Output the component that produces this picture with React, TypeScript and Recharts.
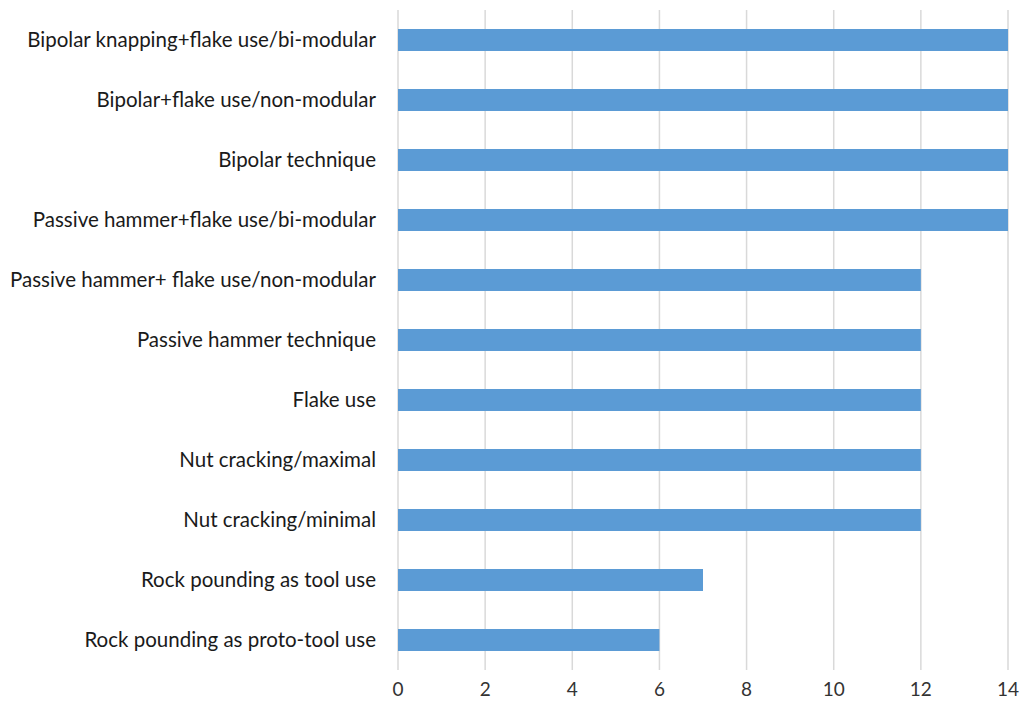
import React from "react";
import { BarChart, Bar, XAxis, YAxis, CartesianGrid } from "recharts";

const categories = [
  "Bipolar knapping+flake use/bi-modular",
  "Bipolar+flake use/non-modular",
  "Bipolar technique",
  "Passive hammer+flake use/bi-modular",
  "Passive hammer+ flake use/non-modular",
  "Passive hammer technique",
  "Flake use",
  "Nut cracking/maximal",
  "Nut cracking/minimal",
  "Rock pounding as tool use",
  "Rock pounding as proto-tool use",
];
const values = [14, 14, 14, 14, 12, 12, 12, 12, 12, 7, 6];
const xTicks = [0, 2, 4, 6, 8, 10, 12, 14];

const data = categories.map((name, i) => ({ name, value: values[i] }));

export default function App() {
  return (
    <div style={{ position: "absolute", left: 0, top: 0, background: "#fff" }}>
      <BarChart
        width={1025}
        height={704}
        data={data}
        layout="vertical"
        margin={{ top: 10, right: 17, bottom: 0, left: 0 }}
      >
        <CartesianGrid horizontal={false} stroke="#d9d9d9" strokeWidth={1.5} />
        <XAxis
          type="number"
          domain={[0, 14]}
          ticks={xTicks}
          axisLine={false}
          tickLine={false}
          height={34}
          tickMargin={7}
          tick={{ fill: "#333", fontSize: 19, fontFamily: "Lato" }}
          interval={0}
        />
        <YAxis
          type="category"
          dataKey="name"
          width={398}
          axisLine={false}
          tickLine={false}
          tickMargin={16}
          interval={0}
          tick={{ fill: "#1a1a1a", fontSize: 20.5, fontFamily: "Lato" }}
        />
        <Bar dataKey="value" fill="#5b9bd5" barSize={22} isAnimationActive={false} />
      </BarChart>
    </div>
  );
}
